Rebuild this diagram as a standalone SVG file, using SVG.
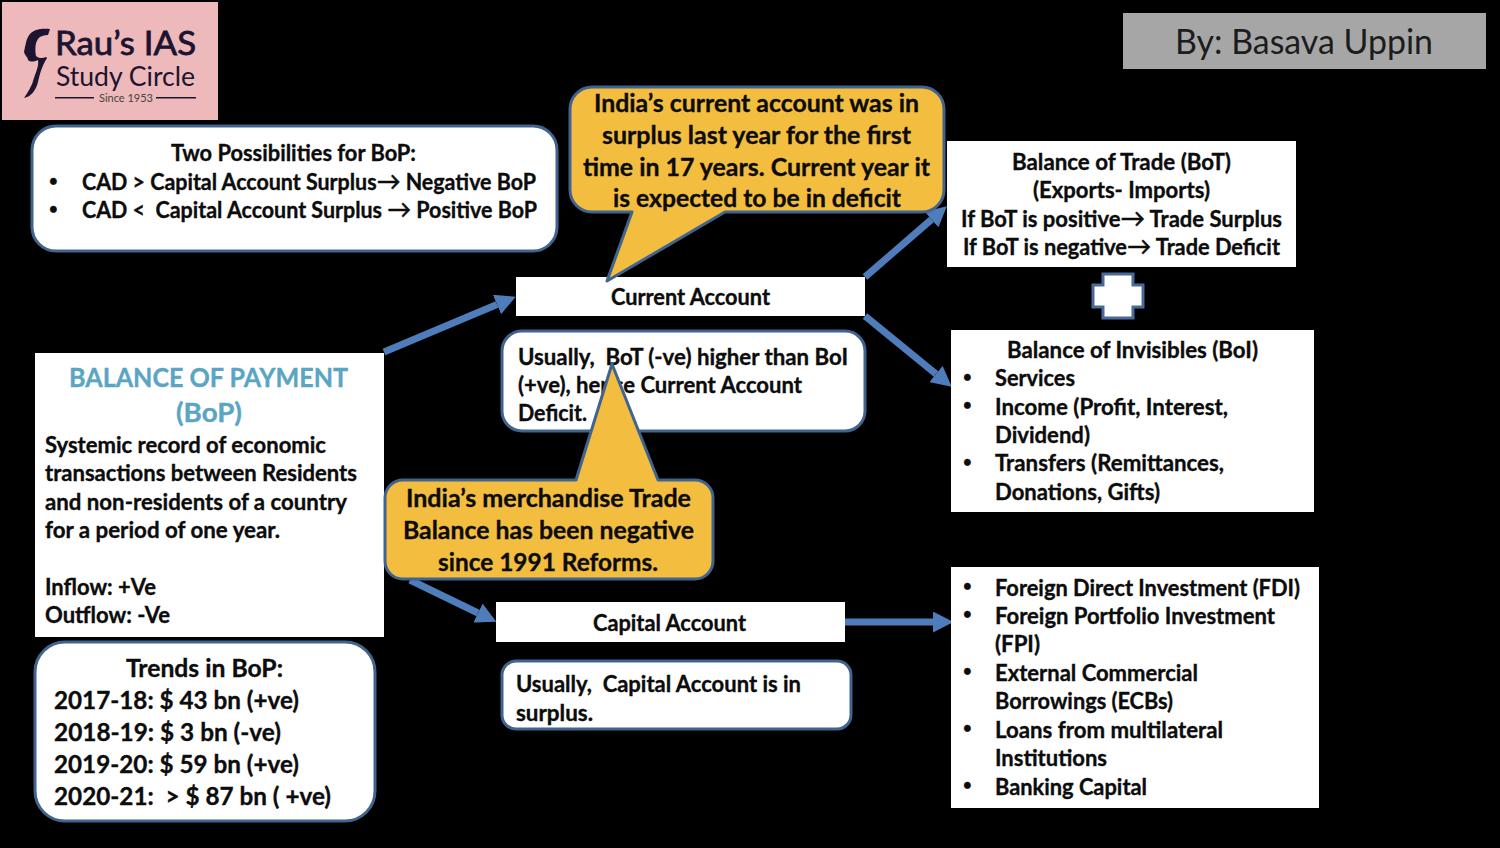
<svg xmlns="http://www.w3.org/2000/svg" width="1500" height="848" viewBox="0 0 1500 848">
<style>
text{font-family:Lato,"Open Sans","Liberation Sans",sans-serif;font-weight:700;fill:#0c0c0c;white-space:pre}
.a,.b,.c,.t{stroke:#0c0c0c;stroke-width:.35px}
.a{font-size:22.5px}
.b{font-size:25px}
.c{font-size:25px}
.t{font-size:27px;fill:#5AA5C4;stroke:#5AA5C4}
.d{font-size:15px}
.g{font-size:25px;font-weight:400;stroke-width:.6px}
.box{fill:#fff}
.rb{fill:#fff;stroke:#41648F;stroke-width:3}
.call{fill:#F3BD3F;stroke:#41648F;stroke-width:3;stroke-linejoin:round}
.arr{stroke:#4F7DBB;stroke-width:7;fill:none;marker-end:url(#h)}
.logo{fill:#1c1430}
</style>
<defs>
<marker id="h" markerUnits="strokeWidth" markerWidth="2.9" markerHeight="3" refX="0" refY="1.5" orient="auto"><path d="M0 0L2.9 1.5L0 3Z" fill="#4F7DBB"/></marker>
</defs>
<rect width="1500" height="848" fill="#000"/>
<g id="connectors">
<line class="arr" x1="384" y1="352" x2="497" y2="304.5"/>
<line class="arr" x1="865" y1="277" x2="931.5" y2="219.5"/>
<line class="arr" x1="865" y1="316" x2="936" y2="374"/>
<line class="arr" x1="410" y1="580" x2="478" y2="613"/>
<line class="arr" x1="844" y1="622" x2="933" y2="622"/>
</g>
<g id="logo">
<rect x="2" y="2" width="216" height="118" fill="#EDB9BA"/>
<path d="M50 29C42 28 34 29 30 34C26 39 26 44 25 47L24 52C25 56 28 57 28 60C31 63 36 61 38 60C39 66 36 72 34 78C32 86 28 92 24 98C31 97 36 90 38 82C40 74 41 68 47 58L46 57C42 59 38 58 36 56C35 50 35 43 38 39C40 36 44 35 48 35Z" fill="#1c1430"/>
<text class="logo" x="55" y="55" font-size="33" textLength="141" lengthAdjust="spacingAndGlyphs" style="stroke:#1c1430;stroke-width:.8px;font-weight:400">Rau’s IAS</text>
<text class="logo" x="56" y="86" font-size="27" textLength="139" lengthAdjust="spacingAndGlyphs" style="font-weight:400">Study Circle</text>
<text class="logo" x="99" y="102" font-size="11.5" textLength="54" lengthAdjust="spacingAndGlyphs" style="font-weight:400;fill:#444">Since 1953</text>
<rect x="55" y="97" width="39" height="1.5" fill="#1c1430"/>
<rect x="156" y="97" width="40" height="1.5" fill="#1c1430"/>
</g>
<g id="author">
<rect x="1123" y="13" width="363" height="56" fill="#A6A6A6"/>
<text x="1175" y="54" font-size="34" textLength="258" lengthAdjust="spacingAndGlyphs" style="font-weight:400;fill:#1c1c1c">By: Basava Uppin</text>
</g>
<g id="possibilities">
<rect class="rb" x="32" y="126" width="525" height="125" rx="24"/>
<text class="a" x="171" y="161" textLength="245" lengthAdjust="spacingAndGlyphs">Two Possibilities for BoP:</text>
<text class="a d" x="49" y="186">•</text>
<text class="a" x="82" y="190" textLength="454" lengthAdjust="spacingAndGlyphs">CAD &gt; Capital Account Surplus<tspan class="g">→</tspan> Negative BoP</text>
<text class="a d" x="49" y="214">•</text>
<text class="a" x="82" y="218" textLength="455" lengthAdjust="spacingAndGlyphs">CAD &lt;  Capital Account Surplus <tspan class="g">→</tspan> Positive BoP</text>
</g>
<g id="current-account">
<rect class="box" x="516" y="277" width="349" height="39"/>
<text class="a" x="611" y="305" textLength="159" lengthAdjust="spacingAndGlyphs">Current Account</text>
</g>
<g id="current-note">
<rect class="rb" x="502" y="331" width="363" height="100" rx="20"/>
<text class="a" x="518" y="365" textLength="330" lengthAdjust="spacingAndGlyphs">Usually,  BoT (-ve) higher than BoI</text>
<text class="a" x="518" y="393" textLength="284" lengthAdjust="spacingAndGlyphs">(+ve), hence Current Account</text>
<text class="a" x="518" y="421" textLength="69" lengthAdjust="spacingAndGlyphs">Deficit.</text>
</g>
<g id="callout-current">
<path class="call" d="M592 87H922A22 22 0 0 1 944 109V190A22 22 0 0 1 922 212H725L607 281L632 212H592A22 22 0 0 1 570 190V109A22 22 0 0 1 592 87Z"/>
<text class="b" x="594" y="112" textLength="325" lengthAdjust="spacingAndGlyphs">India’s current account was in</text>
<text class="b" x="602" y="144" textLength="309" lengthAdjust="spacingAndGlyphs">surplus last year for the first</text>
<text class="b" x="583" y="176" textLength="347" lengthAdjust="spacingAndGlyphs">time in 17 years. Current year it</text>
<text class="b" x="613" y="207" textLength="288" lengthAdjust="spacingAndGlyphs">is expected to be in deficit</text>
</g>
<g id="bot">
<rect class="box" x="947" y="141" width="349" height="126"/>
<text class="a" x="1012" y="170" textLength="219" lengthAdjust="spacingAndGlyphs">Balance of Trade (BoT)</text>
<text class="a" x="1033" y="198" textLength="177" lengthAdjust="spacingAndGlyphs">(Exports- Imports)</text>
<text class="a" x="961" y="227" textLength="321" lengthAdjust="spacingAndGlyphs">If BoT is positive<tspan class="g">→</tspan> Trade Surplus</text>
<text class="a" x="963" y="255" textLength="317" lengthAdjust="spacingAndGlyphs">If BoT is negative<tspan class="g">→</tspan> Trade Deficit</text>
</g>
<g id="plus">
<path d="M1103 274H1133V285H1143V307H1133V318H1103V307H1093V285H1103Z" fill="#fff" stroke="#4A6A9C" stroke-width="3"/>
</g>
<g id="boi">
<rect class="box" x="951" y="330" width="363" height="182"/>
<text class="a" x="1007" y="358" textLength="251" lengthAdjust="spacingAndGlyphs">Balance of Invisibles (BoI)</text>
<text class="a d" x="963" y="382">•</text>
<text class="a" x="995" y="386" textLength="80" lengthAdjust="spacingAndGlyphs">Services</text>
<text class="a d" x="963" y="410">•</text>
<text class="a" x="995" y="415" textLength="233" lengthAdjust="spacingAndGlyphs">Income (Profit, Interest,</text>
<text class="a" x="995" y="443" textLength="95" lengthAdjust="spacingAndGlyphs">Dividend)</text>
<text class="a d" x="963" y="467">•</text>
<text class="a" x="995" y="471" textLength="229" lengthAdjust="spacingAndGlyphs">Transfers (Remittances,</text>
<text class="a" x="995" y="500" textLength="165" lengthAdjust="spacingAndGlyphs">Donations, Gifts)</text>
</g>
<g id="bop">
<rect class="box" x="35" y="353" width="349" height="284"/>
<text class="t" x="69" y="387" textLength="279" lengthAdjust="spacingAndGlyphs">BALANCE OF PAYMENT</text>
<text class="t" x="176" y="422" textLength="66" lengthAdjust="spacingAndGlyphs">(BoP)</text>
<text class="a" x="45" y="453" textLength="281" lengthAdjust="spacingAndGlyphs">Systemic record of economic</text>
<text class="a" x="45" y="481" textLength="312" lengthAdjust="spacingAndGlyphs">transactions between Residents</text>
<text class="a" x="45" y="510" textLength="302" lengthAdjust="spacingAndGlyphs">and non-residents of a country</text>
<text class="a" x="45" y="538" textLength="235" lengthAdjust="spacingAndGlyphs">for a period of one year.</text>
<text class="a" x="45" y="595" textLength="111" lengthAdjust="spacingAndGlyphs">Inflow: +Ve</text>
<text class="a" x="45" y="623" textLength="125" lengthAdjust="spacingAndGlyphs">Outflow: -Ve</text>
</g>
<g id="callout-trade">
<path class="call" d="M403 480H576L612 364L658 480H695A18 18 0 0 1 713 498V561A18 18 0 0 1 695 579H403A18 18 0 0 1 385 561V498A18 18 0 0 1 403 480Z"/>
<text class="b" x="406" y="507" textLength="285" lengthAdjust="spacingAndGlyphs">India’s merchandise Trade</text>
<text class="b" x="403" y="539" textLength="291" lengthAdjust="spacingAndGlyphs">Balance has been negative</text>
<text class="b" x="438" y="571" textLength="220" lengthAdjust="spacingAndGlyphs">since 1991 Reforms.</text>
</g>
<g id="capital-account">
<rect class="box" x="496" y="602" width="349" height="40"/>
<text class="a" x="593" y="631" textLength="153" lengthAdjust="spacingAndGlyphs">Capital Account</text>
</g>
<g id="capital-note">
<rect class="rb" x="502" y="661" width="349" height="68" rx="14"/>
<text class="a" x="516" y="692" textLength="285" lengthAdjust="spacingAndGlyphs">Usually,  Capital Account is in</text>
<text class="a" x="516" y="721" textLength="77" lengthAdjust="spacingAndGlyphs">surplus.</text>
</g>
<g id="capital-items">
<rect class="box" x="951" y="567" width="368" height="241"/>
<text class="a d" x="963" y="591">•</text>
<text class="a" x="995" y="596" textLength="305" lengthAdjust="spacingAndGlyphs">Foreign Direct Investment (FDI)</text>
<text class="a d" x="963" y="619">•</text>
<text class="a" x="995" y="624" textLength="280" lengthAdjust="spacingAndGlyphs">Foreign Portfolio Investment</text>
<text class="a" x="995" y="652" textLength="45" lengthAdjust="spacingAndGlyphs">(FPI)</text>
<text class="a d" x="963" y="676">•</text>
<text class="a" x="995" y="681" textLength="203" lengthAdjust="spacingAndGlyphs">External Commercial</text>
<text class="a" x="995" y="709" textLength="178" lengthAdjust="spacingAndGlyphs">Borrowings (ECBs)</text>
<text class="a d" x="963" y="733">•</text>
<text class="a" x="995" y="738" textLength="228" lengthAdjust="spacingAndGlyphs">Loans from multilateral</text>
<text class="a" x="995" y="766" textLength="112" lengthAdjust="spacingAndGlyphs">Institutions</text>
<text class="a d" x="963" y="790">•</text>
<text class="a" x="995" y="795" textLength="152" lengthAdjust="spacingAndGlyphs">Banking Capital</text>
</g>
<g id="trends">
<rect class="rb" x="35" y="642" width="340" height="179" rx="30"/>
<text class="c" x="126" y="677" textLength="157" lengthAdjust="spacingAndGlyphs">Trends in BoP:</text>
<text class="c" x="54" y="709" textLength="245" lengthAdjust="spacingAndGlyphs">2017-18: $ 43 bn (+ve)</text>
<text class="c" x="54" y="741" textLength="227" lengthAdjust="spacingAndGlyphs">2018-19: $ 3 bn (-ve)</text>
<text class="c" x="54" y="773" textLength="245" lengthAdjust="spacingAndGlyphs">2019-20: $ 59 bn (+ve)</text>
<text class="c" x="54" y="805" textLength="277" lengthAdjust="spacingAndGlyphs">2020-21:  &gt; $ 87 bn ( +ve)</text>
</g>
</svg>
